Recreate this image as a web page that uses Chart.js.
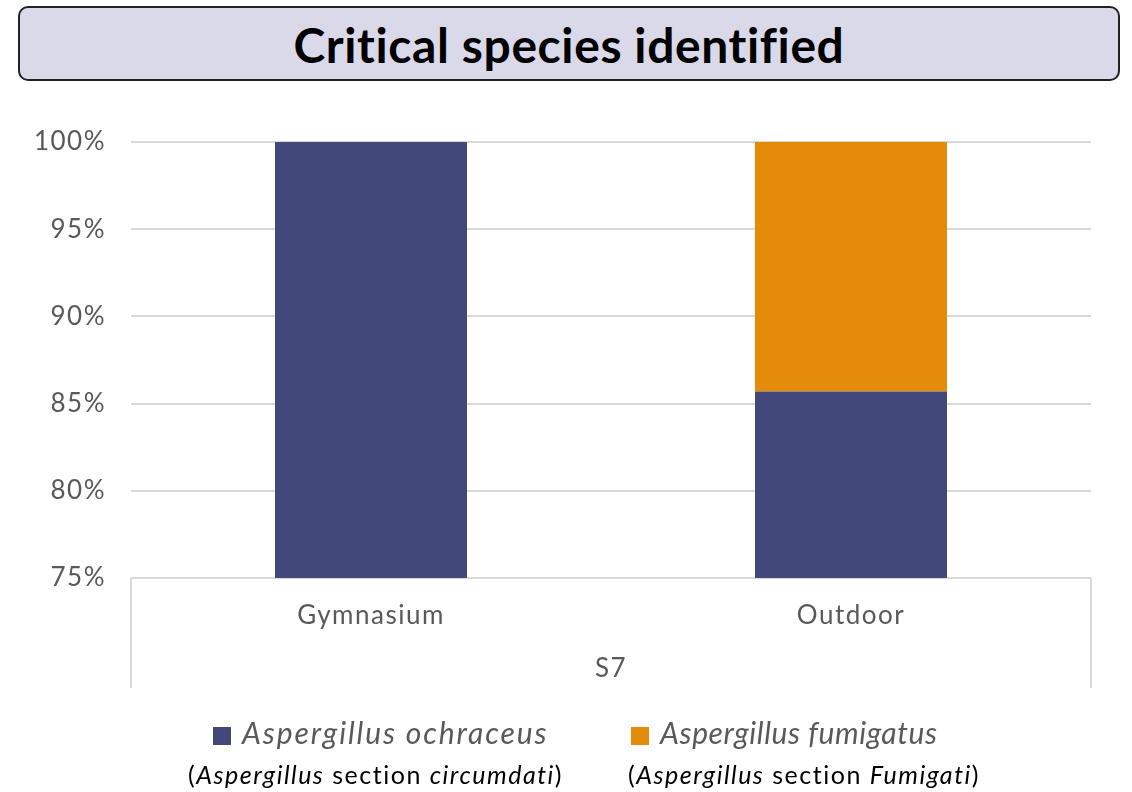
<!DOCTYPE html>
<html>
<head>
<meta charset="utf-8">
<script src="https://cdn.jsdelivr.net/npm/chart.js@4"></script>
<style>
  body { margin: 0; background: #fff; font-family: "Lato", sans-serif; }
  #wrap { position: relative; width: 1132px; height: 792px; }
  #title {
    position: absolute; left: 18px; top: 6px; width: 1098px; height: 71px;
    border: 2px solid #222; border-radius: 10px; background: #d9d9ea;
    font-weight: bold; font-size: 48px; line-height: 73px; text-align: center; color: #000;
    letter-spacing: 0.6px;
  }
  .leg { position: absolute; top: 714px; font-style: italic; font-size: 30px; letter-spacing: 1.9px; color: #595959; white-space: nowrap; }
  .leg i { display: inline-block; width: 18px; height: 18px; margin-right: 11px; vertical-align: -1px; }
  .sub { position: absolute; top: 759px; font-size: 25px; letter-spacing: 1.5px; color: #000; white-space: nowrap; }
</style>
</head>
<body>
<div id="wrap">
  <canvas id="chart"></canvas>
  <div id="title">Critical species identified</div>
  <div class="leg" style="left:213px"><i style="background:#43487a"></i>Aspergillus ochraceus</div>
  <div class="leg" style="left:631px;letter-spacing:0.6px"><i style="background:#e48b09"></i>Aspergillus fumigatus</div>
  <div class="sub" style="left:188px">(<em>Aspergillus</em> section <em>circumdati</em>)</div>
  <div class="sub" style="left:628px">(<em>Aspergillus</em> section <em>Fumigati</em>)</div>
</div>
<script>
const categories = ["Gymnasium", "Outdoor"];
const groupLabel = "S7";
const ochraceus = [100, 85.7];
const fumigatus = [0, 14.3];
const yMin = 75, yMax = 100, yStep = 5;

Chart.defaults.font.family = "Lato";
Chart.defaults.color = "#595959";

// wider text, closer to the original's Century Gothic look
const spacing = {
  id: "spacing",
  beforeInit(chart) { chart.ctx.letterSpacing = "1.5px"; },
  beforeDraw(chart) { chart.ctx.letterSpacing = "1.5px"; }
};

// vertical lines bounding the category label area (Excel multi-level axis look)
const boundaryLines = {
  id: "boundaryLines",
  afterDraw(chart) {
    const ctx = chart.ctx, a = chart.chartArea, x = chart.scales.x;
    ctx.save();
    ctx.strokeStyle = "#d9d9d9";
    ctx.lineWidth = 2;
    ctx.beginPath();
    ctx.moveTo(a.left, a.bottom); ctx.lineTo(a.left, x.bottom);
    ctx.moveTo(a.right, a.bottom); ctx.lineTo(a.right, x.bottom);
    ctx.stroke();
    ctx.restore();
  }
};

new Chart(document.getElementById("chart"), {
  type: "bar",
  data: {
    labels: categories,
    datasets: [
      { label: "Aspergillus ochraceus", data: ochraceus, backgroundColor: "#43487a" },
      { label: "Aspergillus fumigatus", data: fumigatus, backgroundColor: "#e48b09" }
    ]
  },
  options: {
    responsive: true,
    maintainAspectRatio: false,
    animation: false,
    layout: { padding: { left: 0, right: 41, top: 142, bottom: 104 } },
    datasets: { bar: { categoryPercentage: 1, barPercentage: 0.4, borderWidth: 0 } },
    plugins: { legend: { display: false }, tooltip: { enabled: false } },
    scales: {
      x: {
        stacked: true,
        grid: { display: false },
        border: { display: false },
        ticks: { font: { size: 26 }, padding: 14 },
        title: { display: true, text: groupLabel, font: { size: 26 }, padding: { top: 0, bottom: 4 } },
        afterFit(s) { s.height = 110; }
      },
      y: {
        stacked: true,
        min: yMin, max: yMax,
        grid: { color: "#d9d9d9", lineWidth: 2, drawTicks: false },
        border: { display: false },
        ticks: { stepSize: yStep, font: { size: 26 }, padding: 25, callback: v => v + "%" },
        afterFit(s) { s.width = 131; }
      }
    }
  },
  plugins: [spacing, boundaryLines]
});
</script>
</body>
</html>
